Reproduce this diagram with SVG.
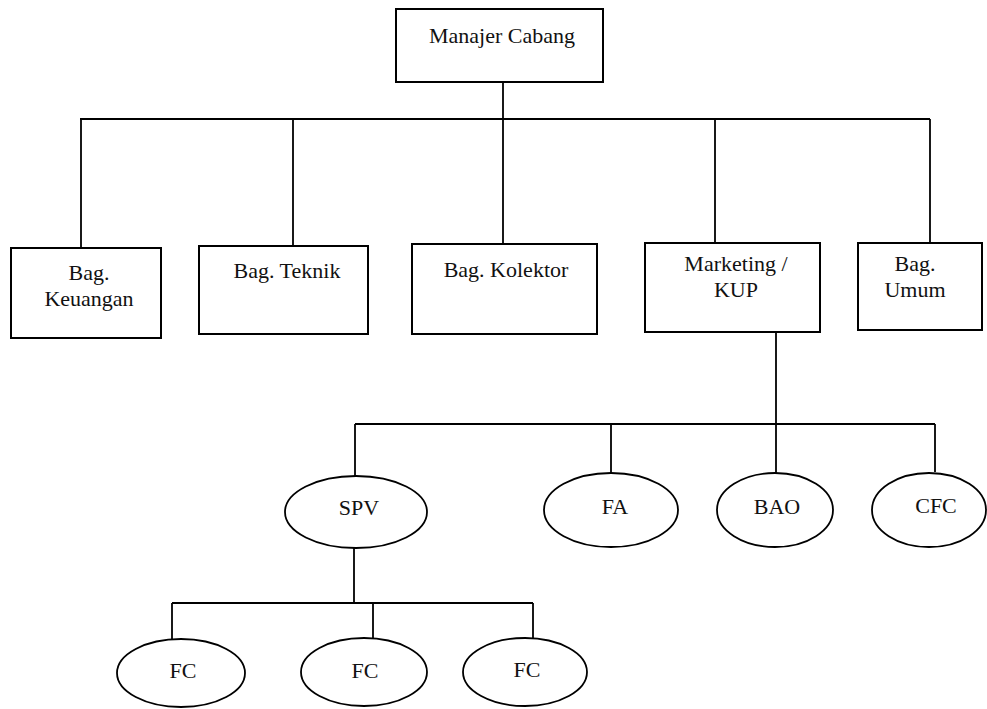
<svg xmlns="http://www.w3.org/2000/svg" width="987" height="709" viewBox="0 0 987 709">
<style>
.box{fill:#fff;stroke:#000;stroke-width:2}
.ell{fill:none;stroke:#000;stroke-width:1.8}
.lbl{font-family:"Liberation Serif","Times New Roman",serif;font-size:22px;fill:#111;text-anchor:middle}
.con{fill:none;stroke:#000;stroke-width:1.8}
</style>
<rect width="987" height="709" fill="#fff"/>
<g id="connectors">
<path class="con" d="M503 82V244"/>
<path class="con" d="M80 119H930"/>
<path class="con" d="M81 119V248"/>
<path class="con" d="M293 119V246"/>
<path class="con" d="M715 119V243"/>
<path class="con" d="M930 119V243"/>
<path class="con" d="M776 332V473"/>
<path class="con" d="M355 424H935"/>
<path class="con" d="M355 424V476"/>
<path class="con" d="M611 424V474"/>
<path class="con" d="M935 424V472"/>
<path class="con" d="M354 548V603"/>
<path class="con" d="M172 603H533"/>
<path class="con" d="M172 603V640"/>
<path class="con" d="M373 603V638"/>
<path class="con" d="M533 603V638"/>
</g>
<g id="manajer">
<rect class="box" x="396" y="9" width="207" height="73"/>
<text class="lbl" x="502" y="43">Manajer Cabang</text>
</g>
<g id="keuangan">
<rect class="box" x="11" y="248" width="150" height="90"/>
<text class="lbl" x="89" y="280">Bag.</text>
<text class="lbl" x="89" y="306">Keuangan</text>
</g>
<g id="teknik">
<rect class="box" x="199" y="246" width="169" height="88"/>
<text class="lbl" x="287" y="278">Bag. Teknik</text>
</g>
<g id="kolektor">
<rect class="box" x="412" y="244" width="185" height="90"/>
<text class="lbl" x="506" y="277">Bag. Kolektor</text>
</g>
<g id="marketing">
<rect class="box" x="645" y="243" width="175" height="89"/>
<text class="lbl" x="736" y="271">Marketing /</text>
<text class="lbl" x="736" y="297">KUP</text>
</g>
<g id="umum">
<rect class="box" x="858" y="243" width="124" height="87"/>
<text class="lbl" x="915" y="271">Bag.</text>
<text class="lbl" x="915" y="297">Umum</text>
</g>
<g id="spv">
<ellipse class="ell" cx="356" cy="512" rx="71" ry="36"/>
<text class="lbl" x="359" y="515">SPV</text>
</g>
<g id="fa">
<ellipse class="ell" cx="611" cy="510" rx="67" ry="37"/>
<text class="lbl" x="615" y="514">FA</text>
</g>
<g id="bao">
<ellipse class="ell" cx="775" cy="510" rx="58" ry="37"/>
<text class="lbl" x="777" y="514">BAO</text>
</g>
<g id="cfc">
<ellipse class="ell" cx="929" cy="510" rx="57" ry="37"/>
<text class="lbl" x="936" y="513">CFC</text>
</g>
<g id="fc1">
<ellipse class="ell" cx="181" cy="673" rx="64" ry="34"/>
<text class="lbl" x="183" y="678">FC</text>
</g>
<g id="fc2">
<ellipse class="ell" cx="364" cy="672" rx="63" ry="34"/>
<text class="lbl" x="365" y="678">FC</text>
</g>
<g id="fc3">
<ellipse class="ell" cx="525" cy="672" rx="62" ry="34"/>
<text class="lbl" x="527" y="677">FC</text>
</g>
</svg>
